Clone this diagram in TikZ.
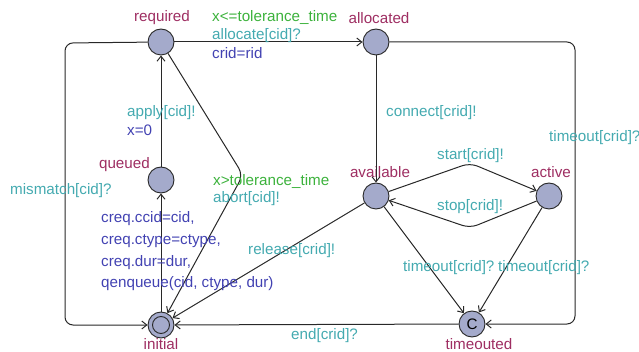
\documentclass[tikz,border=0pt]{standalone}
\usepackage{fontspec}
\setmainfont{Liberation Sans}
\usetikzlibrary{arrows.meta}
\definecolor{locfill}{RGB}{164,170,203}
\definecolor{locname}{RGB}{158,46,98}
\definecolor{syncc}{RGB}{68,170,176}
\definecolor{guardc}{RGB}{60,178,60}
\definecolor{assignc}{RGB}{66,66,178}
\definecolor{edgec}{RGB}{40,40,40}
\begin{document}
\begin{tikzpicture}[x=1pt,y=-1pt,
  font=\fontsize{15.2}{18}\selectfont,
  loc/.style={circle,draw=edgec,line width=0.9pt,fill=locfill,minimum size=26pt,inner sep=0pt},
  locname/.style={text=locname,inner sep=0pt},
  synclbl/.style={text=syncc,anchor=west,inner sep=0pt},
  guardlbl/.style={text=guardc,anchor=west,inner sep=0pt},
  assignlbl/.style={text=assignc,anchor=west,inner sep=0pt},
  trans/.style={draw=edgec,line width=1pt,-{Straight Barb[length=5pt,width=8pt]}},
  nailtrans/.style={trans,rounded corners=8pt}]
\useasboundingbox (0,0) rectangle (639,352);

% locations
\node[loc] (required) at (161,42) {};
\node[loc] (allocated) at (376,42) {};
\node[loc] (queued) at (161,180) {};
\node[loc] (initial) at (161,325) {};
\node[circle,draw=edgec,line width=0.9pt,minimum size=17pt,inner sep=0pt] (initialin) at (161,325) {};
\node[loc] (available) at (376,196) {};
\node[loc] (active) at (549,196) {};
\node[loc] (timeouted) at (472,324) {C};

% location names
\node[locname] (nreq) at (162,18) {required};
\node[locname] (nalloc) at (379,18) {allocated};
\node[locname,anchor=east] (nqueued) at (150,165) {queued};
\node[locname,anchor=base] (ninit) at (161,349.5) {initial};
\node[locname] (navail) at (380,172) {available};
\node[locname] (nactive) at (551,172) {active};
\node[locname] (ntimeout) at (479,344) {timeouted};

% nails of the bent transitions
\coordinate (c1) at (575,42);
\coordinate (c2) at (575,324);
\coordinate (m1) at (65,43);
\coordinate (m2) at (65,325);
\coordinate (ab) at (243,175);
\coordinate (st) at (470,163);
\coordinate (sp) at (470,228);

% transitions
\draw[trans] (required) -- (allocated);
\draw[nailtrans] (allocated) -- (c1) -- (c2) -- (timeouted);
\draw[trans] (allocated) -- (available);
\draw[nailtrans] (available) -- (st) -- (active);
\draw[nailtrans] (active) -- (sp) -- (available);
\draw[trans] (available) -- (timeouted);
\draw[trans] (active) -- (timeouted);
\draw[trans] (available) -- (initial);
\draw[trans] (timeouted) -- (initial);
\draw[nailtrans] (required) -- (ab) -- (initial);
\draw[trans] (initial) -- (queued);
\draw[trans] (queued) -- (required);
\draw[nailtrans] (required) -- (m1) -- (m2) -- (initial);

% transition labels
\node[guardlbl] (g1) at (212,18) {x<=tolerance\_time};
\node[synclbl] (s1) at (212,35.5) {allocate[cid]?};
\node[assignlbl] (a1) at (212,53) {crid=rid};
\node[synclbl] (s2) at (127,113) {apply[cid]!};
\node[assignlbl] (a2) at (127,130.5) {x=0};
\node[synclbl] (s3) at (386,113) {connect[crid]!};
\node[synclbl] (s4) at (549,138) {timeout[crid]?};
\node[synclbl] (s5) at (437,156) {start[crid]!};
\node[synclbl] (s6) at (10,191) {mismatch[cid]?};
\node[guardlbl] (g2) at (213,181.5) {x>tolerance\_time};
\node[synclbl] (s7) at (213,199) {abort[cid]!};
\node[synclbl] (s8) at (437,207) {stop[crid]!};
\node[assignlbl] (a3) at (101,219) {creq.ccid=cid,};
\node[assignlbl] (a4) at (101,241) {creq.ctype=ctype,};
\node[assignlbl] (a5) at (101,262.5) {creq.dur=dur,};
\node[assignlbl] (a6) at (101,284) {qenqueue(cid, ctype, dur)};
\node[synclbl] (s9) at (248,251) {release[crid]!};
\node[synclbl] (s10) at (403,268) {timeout[crid]?};
\node[synclbl] (s11) at (498,268) {timeout[crid]?};
\node[synclbl] (s12) at (291,336) {end[crid]?};
\end{tikzpicture}
\end{document}
